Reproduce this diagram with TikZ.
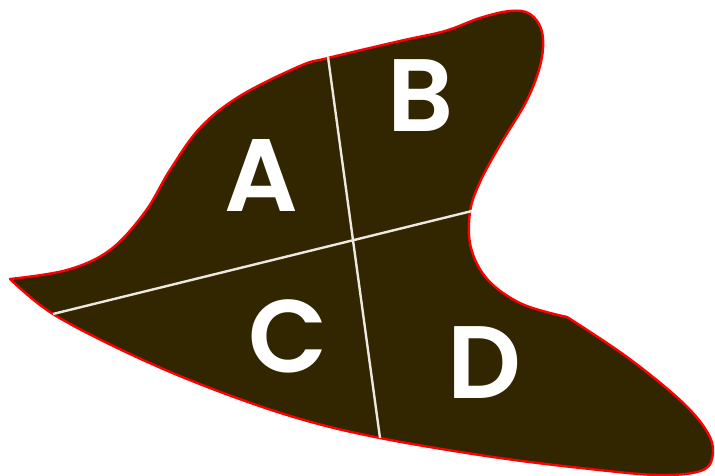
\documentclass[tikz,border=0pt]{standalone}
\usepackage{fontspec}
\usepackage{xcolor}
\usepackage{tikz}
\newfontfamily\letterfont{Poppins}[BoldFont={Poppins SemiBold}]
\definecolor{blobfill}{RGB}{49,38,0}
\definecolor{cutline}{RGB}{236,233,226}

\begin{document}
\begin{tikzpicture}[x=1pt, y=-1pt,
  region/.style={text=white, inner sep=0pt, font=\letterfont\bfseries\fontsize{103}{103}\selectfont},
  cut/.style={draw=cutline, line width=2.4pt}]
  \useasboundingbox (0,0) rectangle (715,476);
  % outline: top edge first, then the right side and the bottom
  \filldraw[fill=blobfill, draw=red, line width=2.4pt, line join=round]
    (10,279) -- plot[smooth, tension=0.6] coordinates {(10,279) (67,270) (110,250) (145,212) (170,170) (200,128) (240,96) (300,66) (328,58) (400,41) (445,31) (480,18) (510,11) (530,14) (542,32) (541,62) (527,100) (500,145) (480,182) (470,212) (471,248) (488,280) (522,304) (567,317)}
    -- plot[smooth, tension=0.6] coordinates {(567,317) (627,357) (680,400) (706,430) (713,452) (703,470) (660,475) (590,469) (493,457) (380,438) (297,418) (210,388) (130,354) (53,314) (10,279)}
    -- cycle;
  \coordinate (top) at (328,57);
  \coordinate (bottom) at (380,438);
  \coordinate (left) at (53,314);
  \coordinate (right) at (472,211);
  \draw[cut] (top) -- (bottom);
  \draw[cut] (left) -- (right);
  \node[region] (A) at (261,176) {A};
  \node[region] (B) at (421,96) {B};
  \node[region] (C) at (288,336) {C};
  \node[region] (D) at (484,363) {D};
\end{tikzpicture}
\end{document}
